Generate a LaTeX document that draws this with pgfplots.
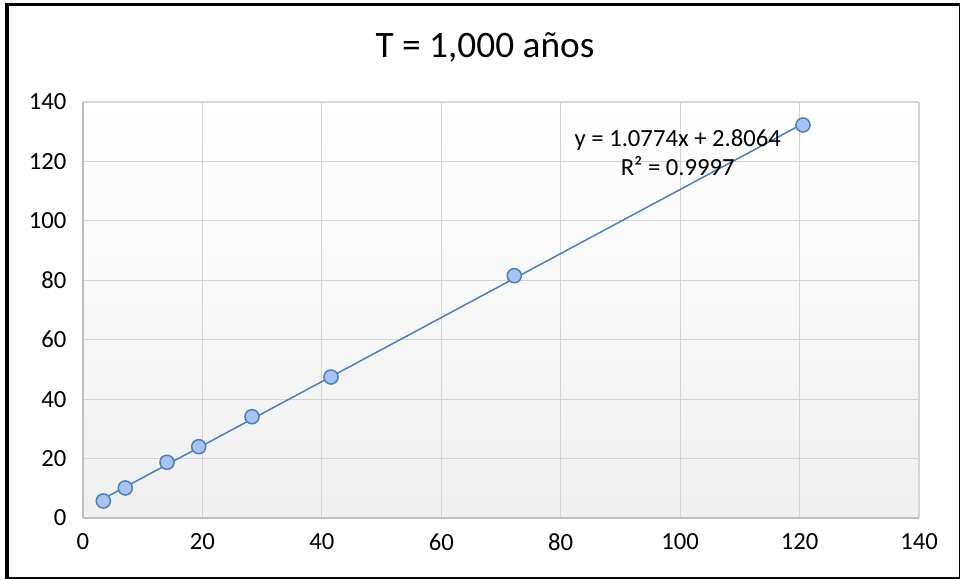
\documentclass[border=0pt]{standalone}
\usepackage{fontspec}
\setmainfont{Carlito}
\usepackage{pgfplots}
\pgfplotsset{compat=1.18}

\definecolor{ptfill}{RGB}{168,196,238}
\definecolor{ptedge}{RGB}{74,126,187}
\definecolor{trend}{RGB}{74,126,187}
\definecolor{gridc}{RGB}{212,212,212}
\definecolor{axisc}{RGB}{191,191,191}

\begin{document}
\begin{tikzpicture}[x=0.75pt,y=0.75pt]
\useasboundingbox (0,0) rectangle (960,580);
% chart frame, heavier on the left and top
\draw[line width=3pt] (6.5,1) -- (6.5,576);
\draw[line width=2.6pt] (5,575.5) -- (960,575.5);
\draw[line width=1.8pt] (5,2) -- (960,2);
\draw[line width=1pt] (959.3,2) -- (959.3,576);
\node[font=\fontsize{28}{32}\selectfont] at (485,533) {T = 1,000 años};

\begin{axis}[
    at={(62.25pt,46.5pt)}, anchor=south west,
    scale only axis,
    width=627pt, height=312pt,
    xmin=0, xmax=140, ymin=0, ymax=140,
    xtick={0,20,...,140}, ytick={0,20,...,140},
    /pgf/number format/assume math mode=true,
    ticklabel style={font=\fontsize{18.5}{22}\selectfont},
    xticklabel style={yshift=-8pt},
    yticklabel style={xshift=-9pt},
    major tick length=0pt,
    grid=major,
    grid style={gridc, line width=0.9pt},
    axis line style={axisc, line width=1pt},
    axis x line*=bottom, axis y line*=left,
    axis background/.style={shade, top color=white, bottom color=black!6},
    clip=false,
]
% trendline y = 1.0774x + 2.8064 over the data range
\addplot[trend, line width=1.1pt] coordinates {(3.40,6.47) (120.57,132.71)};

\addplot[only marks, mark=*, mark size=5.3pt,
    mark options={fill=ptfill, draw=ptedge, line width=1.1pt}]
coordinates {
(3.40,5.72) (7.08,10.10) (14.07,18.75) (19.38,24.00)
(28.30,34.09) (41.53,47.45) (72.23,81.55) (120.57,132.26)
};

\node[align=center, font=\fontsize{18.5}{21.75}\selectfont]
    at (axis cs:99.6,123) {y = 1.0774x + 2.8064\\R² = 0.9997};
\end{axis}
\end{tikzpicture}
\end{document}
